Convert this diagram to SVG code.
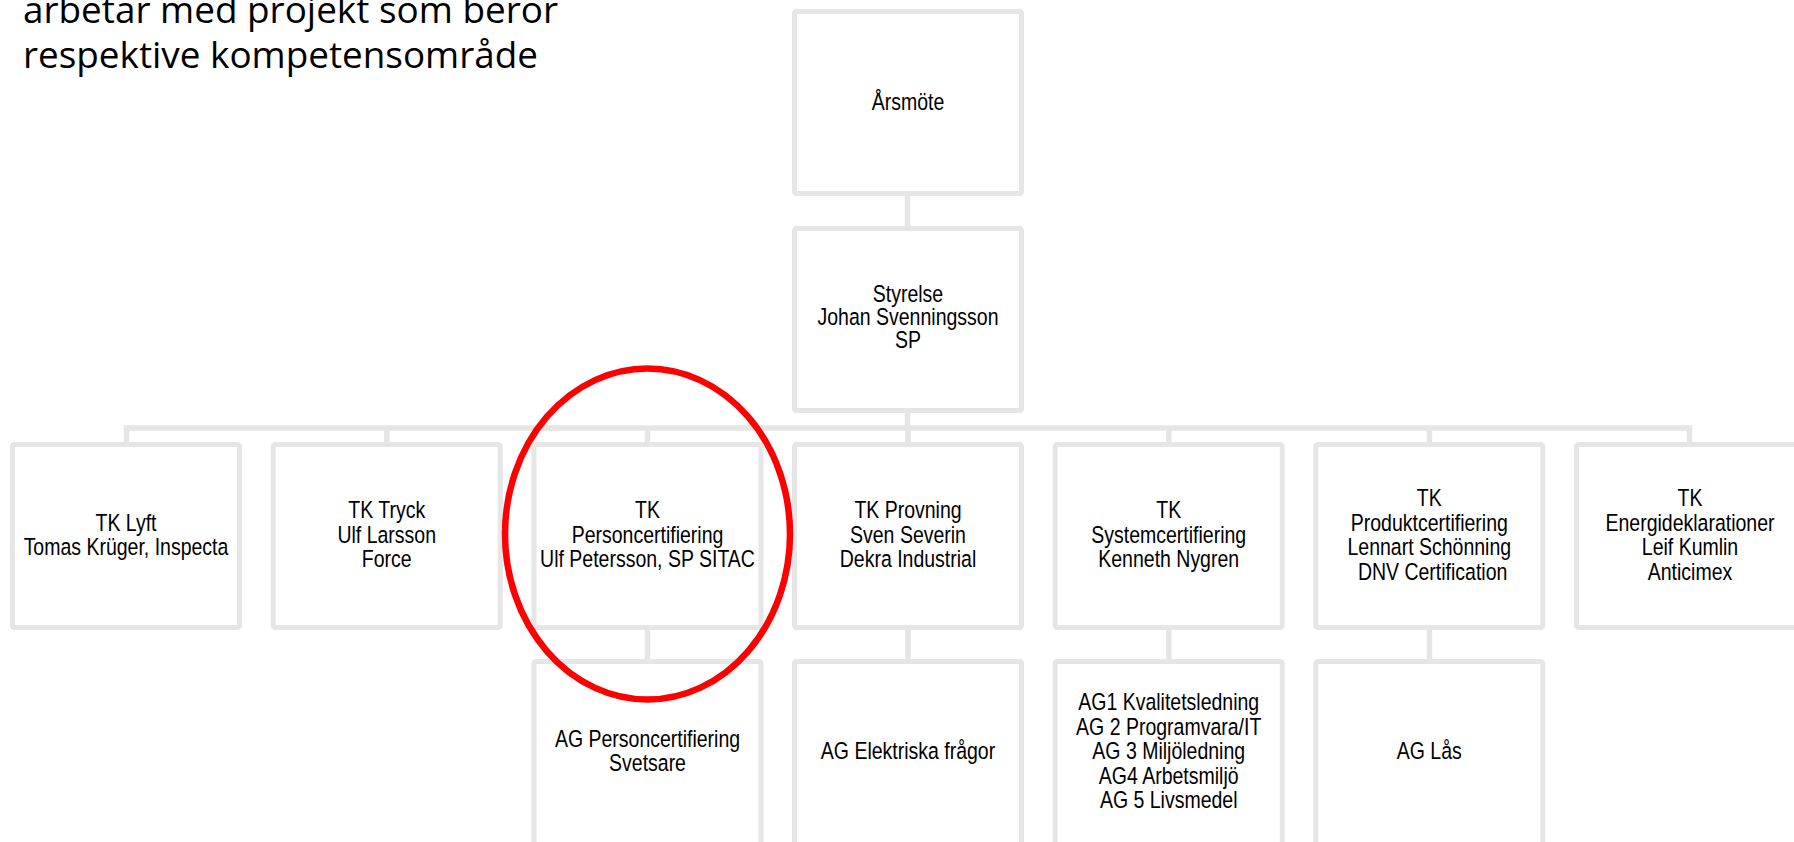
<svg xmlns="http://www.w3.org/2000/svg" width="1794" height="842" viewBox="0 0 1794 842">
<style>
.box{fill:#ffffff;stroke:#e6e6e6;stroke-width:5}
.con{fill:none;stroke:#e6e6e6;stroke-width:5.5}
.t{font-family:"Liberation Sans","Arial",sans-serif;font-size:23.5px;fill:#000;text-anchor:middle}
.title{font-family:"Open Sans","Noto Sans",sans-serif;font-size:36px;fill:#000}
</style>
<rect width="1794" height="842" fill="#ffffff"/>
<g id="title">
<text class="title" x="23" y="23.3" textLength="535" lengthAdjust="spacingAndGlyphs">arbetar med projekt som beror</text>
<text class="title" x="23" y="68.3" textLength="515" lengthAdjust="spacingAndGlyphs">respektive kompetensområde</text>
</g>
<g id="connectors">
<line class="con" x1="907.5" y1="196" x2="907.5" y2="226"/>
<line class="con" x1="907.5" y1="413" x2="907.5" y2="428"/>
<path class="con" d="M126.5 442 V428 H1689.5 V442"/>
<line class="con" x1="386.8" y1="428" x2="386.8" y2="442"/>
<line class="con" x1="647.5" y1="428" x2="647.5" y2="442"/>
<line class="con" x1="908" y1="428" x2="908" y2="442"/>
<line class="con" x1="1168.8" y1="428" x2="1168.8" y2="442"/>
<line class="con" x1="1429.5" y1="428" x2="1429.5" y2="442"/>
<line class="con" x1="647.5" y1="630" x2="647.5" y2="659"/>
<line class="con" x1="908" y1="630" x2="908" y2="659"/>
<line class="con" x1="1168.8" y1="630" x2="1168.8" y2="659"/>
<line class="con" x1="1429.5" y1="630" x2="1429.5" y2="659"/>
</g>
<g id="arsmote">
<rect class="box" x="794.5" y="11.5" width="227" height="182" rx="2"/>
<g transform="translate(908 0) scale(0.83 1)">
<text class="t" x="0" y="110">Årsmöte</text>
</g>
</g>
<g id="styrelse">
<rect class="box" x="794.5" y="228.5" width="227" height="182" rx="2"/>
<g transform="translate(908 0) scale(0.83 1)">
<text class="t" x="0" y="301.7">Styrelse</text>
<text class="t" x="0" y="325">Johan Svenningsson</text>
<text class="t" x="0" y="348.3">SP</text>
</g>
</g>
<g id="tk-lyft">
<rect class="box" x="12.5" y="444.5" width="227" height="183" rx="2"/>
<g transform="translate(126 0) scale(0.83 1)">
<text class="t" x="0" y="530.7">TK Lyft</text>
<text class="t" x="0" y="555.3">Tomas Krüger, Inspecta</text>
</g>
</g>
<g id="tk-tryck">
<rect class="box" x="273.2" y="444.5" width="227" height="183" rx="2"/>
<g transform="translate(386.7 0) scale(0.83 1)">
<text class="t" x="0" y="518.5">TK Tryck</text>
<text class="t" x="0" y="543">Ulf Larsson</text>
<text class="t" x="0" y="567.5">Force</text>
</g>
</g>
<g id="tk-personcert">
<rect class="box" x="534" y="444.5" width="227" height="183" rx="2"/>
<g transform="translate(647.5 0) scale(0.83 1)">
<text class="t" x="0" y="518.5">TK</text>
<text class="t" x="0" y="543">Personcertifiering</text>
<text class="t" x="0" y="567.5">Ulf Petersson, SP SITAC</text>
</g>
</g>
<g id="tk-provning">
<rect class="box" x="794.5" y="444.5" width="227" height="183" rx="2"/>
<g transform="translate(908 0) scale(0.83 1)">
<text class="t" x="0" y="518.5">TK Provning</text>
<text class="t" x="0" y="543">Sven Severin</text>
<text class="t" x="0" y="567.5">Dekra Industrial</text>
</g>
</g>
<g id="tk-systemcert">
<rect class="box" x="1055.2" y="444.5" width="227" height="183" rx="2"/>
<g transform="translate(1168.7 0) scale(0.83 1)">
<text class="t" x="0" y="518.5">TK</text>
<text class="t" x="0" y="543">Systemcertifiering</text>
<text class="t" x="0" y="567.5">Kenneth Nygren</text>
</g>
</g>
<g id="tk-produktcert">
<rect class="box" x="1315.8" y="444.5" width="227" height="183" rx="2"/>
<g transform="translate(1429.3 0) scale(0.83 1)">
<text class="t" x="0" y="506.2">TK</text>
<text class="t" x="0" y="530.7">Produktcertifiering</text>
<text class="t" x="0" y="555.3">Lennart Schönning</text>
<text class="t" x="4" y="579.8">DNV Certification</text>
</g>
</g>
<g id="tk-energi">
<rect class="box" x="1576.5" y="444.5" width="227" height="183" rx="2"/>
<g transform="translate(1690 0) scale(0.83 1)">
<text class="t" x="0" y="506.2">TK</text>
<text class="t" x="0" y="530.7">Energideklarationer</text>
<text class="t" x="0" y="555.3">Leif Kumlin</text>
<text class="t" x="0" y="579.8">Anticimex</text>
</g>
</g>
<g id="ag-personcert">
<rect class="box" x="534" y="661.5" width="227" height="184" rx="2"/>
<g transform="translate(647.5 0) scale(0.83 1)">
<text class="t" x="0" y="747.5">AG Personcertifiering</text>
<text class="t" x="0" y="771">Svetsare</text>
</g>
</g>
<g id="ag-elektriska">
<rect class="box" x="794.5" y="661.5" width="227" height="184" rx="2"/>
<g transform="translate(908 0) scale(0.83 1)">
<text class="t" x="0" y="759.3">AG Elektriska frågor</text>
</g>
</g>
<g id="ag-system">
<rect class="box" x="1055.2" y="661.5" width="227" height="184" rx="2"/>
<g transform="translate(1168.7 0) scale(0.83 1)">
<text class="t" x="0" y="710.3">AG1 Kvalitetsledning</text>
<text class="t" x="0" y="734.8">AG 2 Programvara/IT</text>
<text class="t" x="0" y="759.3">AG 3 Miljöledning</text>
<text class="t" x="0" y="783.8">AG4 Arbetsmiljö</text>
<text class="t" x="0" y="808.3">AG 5 Livsmedel</text>
</g>
</g>
<g id="ag-las">
<rect class="box" x="1315.8" y="661.5" width="227" height="184" rx="2"/>
<g transform="translate(1429.3 0) scale(0.83 1)">
<text class="t" x="0" y="759.3">AG Lås</text>
</g>
</g>
<g id="highlight">
<ellipse cx="647.5" cy="534" rx="142.5" ry="165.5" fill="none" stroke="#ff0000" stroke-width="6.5"/>
</g>
</svg>
